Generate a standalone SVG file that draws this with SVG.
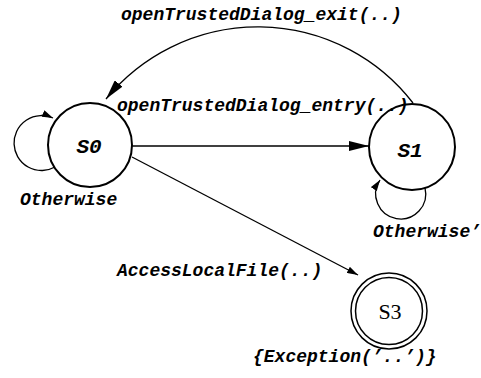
<svg xmlns="http://www.w3.org/2000/svg" width="481" height="378" viewBox="0 0 481 378">
<style>
.st{fill:#fff;stroke:#000;stroke-width:2}
.fin{fill:none;stroke:#000;stroke-width:1.5}
.ed{fill:none;stroke:#000;stroke-width:1.3}
.lb{font-family:"Liberation Mono","Courier New",monospace;font-weight:bold;font-style:italic;font-size:18px;fill:#000}
.nl{font-family:"Liberation Mono","Courier New",monospace;font-weight:bold;font-style:italic;font-size:21px;fill:#000}
.sl{font-family:"Liberation Serif","Times New Roman",serif;font-size:22px;fill:#000}
</style>
<defs>
<marker id="big" markerWidth="20" markerHeight="10" refX="20" refY="5" orient="auto" markerUnits="userSpaceOnUse">
<path d="M0,0 L20,5 L0,10 Z" fill="#000"/>
</marker>
<marker id="small" markerWidth="11" markerHeight="7" refX="11" refY="3.5" orient="auto" markerUnits="userSpaceOnUse">
<path d="M0,0 L11,3.5 L0,7 Z" fill="#000"/>
</marker>
</defs>
<g id="edges">
<path class="ed" d="M132,146 L369,146" marker-end="url(#big)"/>
<path class="ed" d="M413,103 A196,196 0 0,0 106,99" marker-end="url(#big)"/>
<path class="ed" d="M132,157 L358,275" marker-end="url(#small)"/>
<path class="ed" d="M55,167 A27.5,27.5 0 1,1 53,118" marker-end="url(#small)"/>
<path class="ed" d="M425,188 A25,25 0 1,1 380,180" marker-end="url(#small)"/>
</g>
<g id="S0">
<circle class="st" cx="90" cy="145" r="42"/>
<text class="nl" x="89" y="153" text-anchor="middle">S0</text>
</g>
<g id="S1">
<circle class="st" cx="412" cy="147" r="43"/>
<text class="nl" x="410" y="157" text-anchor="middle">S1</text>
</g>
<g id="S3">
<circle class="fin" cx="389" cy="311" r="38"/>
<circle class="fin" cx="389" cy="311" r="33.5"/>
<text class="sl" x="390" y="319" text-anchor="middle">S3</text>
</g>
<g id="labels">
<text class="lb" x="121" y="20">openTrustedDialog_exit(..)</text>
<text class="lb" x="117" y="111">openTrustedDialog_entry(..)</text>
<text class="lb" x="20" y="205">Otherwise</text>
<text class="lb" x="373" y="237">Otherwise’</text>
<text class="lb" x="117" y="276">AccessLocalFile(..)</text>
<text class="lb" x="253" y="362">{Exception(’..’)}</text>
</g>
</svg>
